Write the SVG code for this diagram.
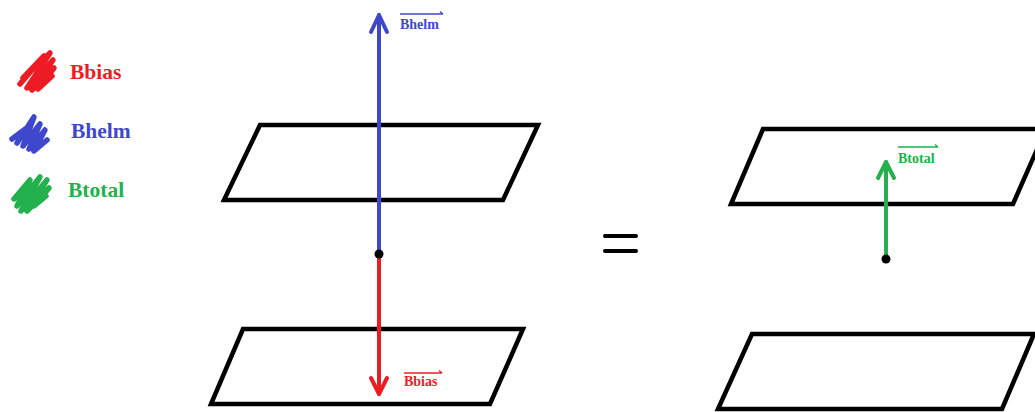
<svg xmlns="http://www.w3.org/2000/svg" width="1035" height="412" viewBox="0 0 1035 412">
<style>
.plane{fill:none;stroke:#000;stroke-width:4.5;stroke-linejoin:miter}
.lbl{font-family:"Liberation Serif",serif;font-weight:bold}
.leg{font-size:21.5px}
.small{font-size:14px}
.scr{fill:none;stroke-width:5.5;stroke-linecap:round;stroke-linejoin:round}
.ov{fill:none;stroke-width:1.3}
</style>
<rect width="1035" height="412" fill="#fff"/>
<g id="legend">
  <g id="legend-bias">
    <path class="scr" stroke="#ed1c24" d="M20,84 L44,56 L23,78 L50,53 L27,88 L53,60 L32,90 L54,68 L38,89 L52,76"/>
    <text class="lbl leg" x="70" y="79" fill="#ed1c24">Bbias</text>
  </g>
  <g id="legend-helm">
    <path class="scr" stroke="#3f48cc" d="M12,139 L28,127 L17,143 L34,117 L23,146 L40,124 L29,149 L45,130 L34,151 L47,140"/>
    <text class="lbl leg" x="71" y="138" fill="#3f48cc">Bhelm</text>
  </g>
  <g id="legend-total">
    <path class="scr" stroke="#22b14c" d="M14,199 L30,180 L17,206 L40,177 L21,211 L47,180 L27,211 L49,188 L34,206 L46,196"/>
    <text class="lbl leg" x="68" y="197" fill="#22b14c">Btotal</text>
  </g>
</g>
<g id="plane-left-top"><polygon class="plane" points="260,125 538,125 503,200 224,200"/></g>
<g id="plane-left-bottom"><polygon class="plane" points="243,329 523,329 490,404 211,404"/></g>
<g id="plane-right-top"><polygon class="plane" points="763,129 1046,129 1013,204 731,204"/></g>
<g id="plane-right-bottom"><polygon class="plane" points="752,334 1034,334 1002,409 718,409"/></g>
<g id="equals">
  <line x1="605" y1="236" x2="636" y2="236" stroke="#000" stroke-width="4" stroke-linecap="round"/>
  <line x1="605" y1="251" x2="636" y2="251" stroke="#000" stroke-width="4" stroke-linecap="round"/>
</g>
<g id="connectors" fill="none" stroke-linecap="round" stroke-linejoin="round" stroke-width="4">
  <g id="arrow-helm" stroke="#3f48cc">
    <line x1="379" y1="254" x2="379" y2="15"/>
    <polyline points="371,32 379,15 387,32"/>
  </g>
  <g id="arrow-bias" stroke="#ed1c24">
    <line x1="379" y1="254" x2="379" y2="394"/>
    <polyline points="371,378 379,394 387,378"/>
  </g>
  <g id="arrow-total" stroke="#22b14c">
    <line x1="886" y1="259" x2="886" y2="162"/>
    <polyline points="878,178 886,162 894,178"/>
  </g>
</g>
<g id="origin-dots" fill="#000">
  <circle cx="379" cy="254" r="4.5"/>
  <circle cx="886" cy="259" r="4.5"/>
</g>
<g id="vector-labels">
  <g id="label-helm">
    <path class="ov" stroke="#3f48cc" d="M400,14 L443,14 M440,11.5 L443,14"/>
    <text class="lbl small" x="400" y="29" fill="#3f48cc">Bhelm</text>
  </g>
  <g id="label-bias">
    <path class="ov" stroke="#ed1c24" d="M404,373 L442,373 M439,370.5 L442,373"/>
    <text class="lbl small" x="404" y="386" fill="#ed1c24">Bbias</text>
  </g>
  <g id="label-total">
    <path class="ov" stroke="#22b14c" d="M898,147 L938,147 M935,144.5 L938,147"/>
    <text class="lbl small" x="898" y="163" fill="#22b14c">Btotal</text>
  </g>
</g>
</svg>
